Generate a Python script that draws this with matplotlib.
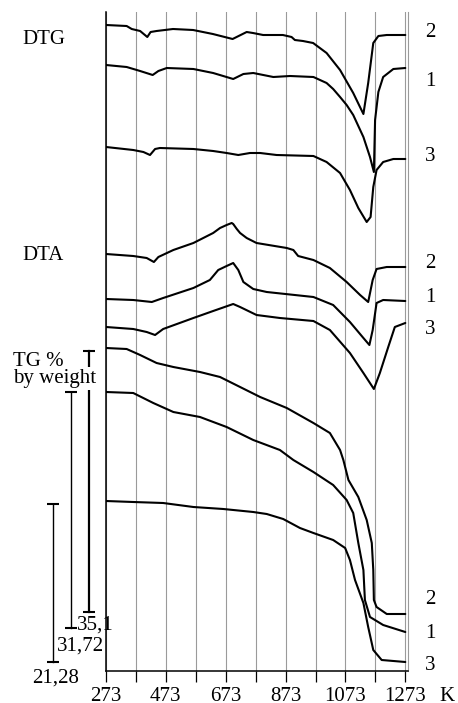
import matplotlib
matplotlib.use('Agg')
import matplotlib.pyplot as plt

plt.rcParams['font.family'] = ['Liberation Serif', 'DejaVu Serif']

# Thermal analysis curves, temperature in K, signal in arbitrary units (offset per curve)
# DTG
dtg2_t = [273, 342, 359, 387, 411, 422, 442, 497, 564, 630, 696, 743, 764, 798, 864, 893, 904, 931, 965, 1010, 1055, 1099, 1120, 1133, 1149, 1166, 1183, 1211, 1273]
dtg2_v = [646, 645, 642, 640, 634, 639, 640, 642, 641, 637, 632, 639, 638, 636, 636, 634, 631, 630, 628, 618, 601, 578, 565, 557, 588, 628, 635, 636, 636]

dtg1_t = [273, 342, 387, 429, 448, 476, 565, 631, 698, 732, 765, 832, 888, 966, 1010, 1032, 1055, 1077, 1099, 1133, 1155, 1168, 1172, 1183, 1199, 1233, 1273]
dtg1_v = [606, 604, 600, 596, 600, 603, 602, 598, 592, 597, 598, 594, 595, 594, 588, 582, 574, 566, 556, 534, 514, 499, 551, 579, 594, 602, 603]

dtg3_t = [273, 364, 398, 420, 437, 453, 565, 631, 676, 715, 754, 788, 843, 966, 1010, 1055, 1088, 1116, 1144, 1157, 1166, 1177, 1199, 1233, 1273]
dtg3_v = [524, 521, 519, 516, 522, 523, 522, 520, 518, 516, 518, 518, 516, 515, 509, 498, 481, 463, 449, 454, 484, 501, 509, 512, 512]

# DTA
dta2_t = [273, 364, 409, 433, 448, 498, 565, 631, 654, 676, 693, 698, 710, 721, 743, 776, 877, 899, 915, 966, 1021, 1077, 1122, 1149, 1164, 1177, 1211, 1273]
dta2_v = [417, 415, 413, 409, 414, 421, 428, 438, 443, 446, 448, 447, 442, 438, 433, 428, 423, 421, 415, 411, 403, 389, 376, 369, 391, 402, 404, 404]

dta1_t = [273, 364, 426, 464, 565, 620, 648, 676, 698, 715, 732, 765, 810, 966, 1032, 1088, 1133, 1153, 1164, 1177, 1199, 1273]
dta1_v = [372, 371, 369, 373, 383, 391, 401, 405, 408, 401, 389, 382, 379, 374, 366, 349, 333, 326, 341, 368, 371, 370]

dta3_t = [273, 364, 409, 437, 464, 565, 631, 698, 721, 776, 854, 966, 1021, 1088, 1133, 1168, 1188, 1216, 1238, 1273]
dta3_v = [344, 342, 339, 336, 342, 353, 360, 367, 364, 356, 353, 350, 341, 318, 298, 282, 298, 324, 344, 348]

# TG
tg2_t = [273, 342, 387, 442, 498, 587, 654, 721, 788, 877, 966, 1021, 1055, 1066, 1083, 1116, 1144, 1161, 1166, 1168, 1177, 1211, 1273]
tg2_v = [323, 322, 316, 308, 304, 299, 294, 284, 274, 263, 248, 238, 221, 211, 191, 174, 151, 128, 101, 71, 64, 57, 57]

tg1_t = [273, 364, 431, 498, 587, 676, 765, 854, 899, 966, 1032, 1077, 1099, 1116, 1133, 1138, 1155, 1199, 1273]
tg1_v = [279, 278, 268, 259, 254, 244, 231, 221, 211, 199, 186, 171, 158, 128, 101, 71, 54, 46, 39]

tg3_t = [273, 364, 464, 565, 665, 765, 810, 865, 921, 966, 1032, 1072, 1088, 1105, 1133, 1149, 1166, 1194, 1273]
tg3_v = [170, 169, 168, 164, 162, 159, 157, 152, 143, 138, 131, 123, 111, 91, 68, 44, 21, 11, 9]

# weight loss (%) for samples 2, 1, 3
tg_loss = [35.1, 31.72, 21.28]
tg_loss_text = ['35,1', '31,72', '21,28']
units_per_percent = 7.44

W, H = 458, 703

def px(x, y):
    return x / W, 1 - y / H

fig = plt.figure(figsize=(W / 100, H / 100), dpi=100)
ax = fig.add_axes([106 / W, 1 - 671 / H, (408 - 106) / W, (671 - 12) / H])

curves = [(dtg2_t, dtg2_v), (dtg1_t, dtg1_v), (dtg3_t, dtg3_v),
          (dta2_t, dta2_v), (dta1_t, dta1_v), (dta3_t, dta3_v),
          (tg2_t, tg2_v), (tg1_t, tg1_v), (tg3_t, tg3_v)]
for t, v in curves:
    ax.plot(t, v, color='black', lw=1.5, solid_joinstyle='round', solid_capstyle='round', zorder=3)

ax.set_xlim(273, 1282)
ax.set_ylim(0, 659)
ticks = list(range(273, 1274, 100))
ax.set_xticks(ticks)
ax.set_xticklabels([str(t) if (t - 273) % 200 == 0 else '' for t in ticks])
ax.tick_params(axis='x', direction='out', length=8, width=0.9, pad=3.5, labelsize=15, colors='black')
ax.set_yticks([])
ax.grid(axis='x', color='#9a9a9a', lw=0.8)
ax.spines['top'].set_visible(False)
ax.spines['right'].set_color('#9a9a9a')
ax.spines['right'].set_linewidth(0.8)
ax.spines['left'].set_linewidth(1.1)
ax.spines['bottom'].set_linewidth(1.1)

# weight loss scale bars left of the axes
bar_t = [217, 155, 97]
bar_top = [320, 279, 167]
bar_lw = [1.6, 1.0, 1.0]
for bt, top, loss, lw in zip(bar_t, bar_top, tg_loss, bar_lw):
    ax.plot([bt, bt], [top, top - loss * units_per_percent], color='black', lw=lw,
            marker='_', ms=8, mew=1.5, clip_on=False, zorder=2)

fs = 15
fig.text(*px(22, 44), 'DTG', fontsize=fs, va='baseline')
fig.text(*px(22, 260), 'DTA', fontsize=fs, va='baseline')
fig.text(*px(13, 383), 'by weight', fontsize=fs, va='baseline',
         bbox=dict(facecolor='white', edgecolor='none', pad=1.5), zorder=4)
fig.text(*px(13, 366), 'TG %', fontsize=fs, va='baseline', zorder=5)
fig.text(*px(77, 630), tg_loss_text[0], fontsize=fs, va='baseline')
fig.text(*px(57, 651), tg_loss_text[1], fontsize=fs, va='baseline')
fig.text(*px(32, 683), tg_loss_text[2], fontsize=fs, va='baseline')

right_labels = [('2', 37), ('1', 86), ('3', 161),
                ('2', 268), ('1', 302), ('3', 334),
                ('2', 604), ('1', 638), ('3', 670)]
for s, y in right_labels:
    fig.text(*px(430, y), s, fontsize=fs, va='baseline', ha='center')
fig.text(*px(447, 701), 'K', fontsize=fs, va='baseline', ha='center')

fig.savefig('out.png', dpi=100)
